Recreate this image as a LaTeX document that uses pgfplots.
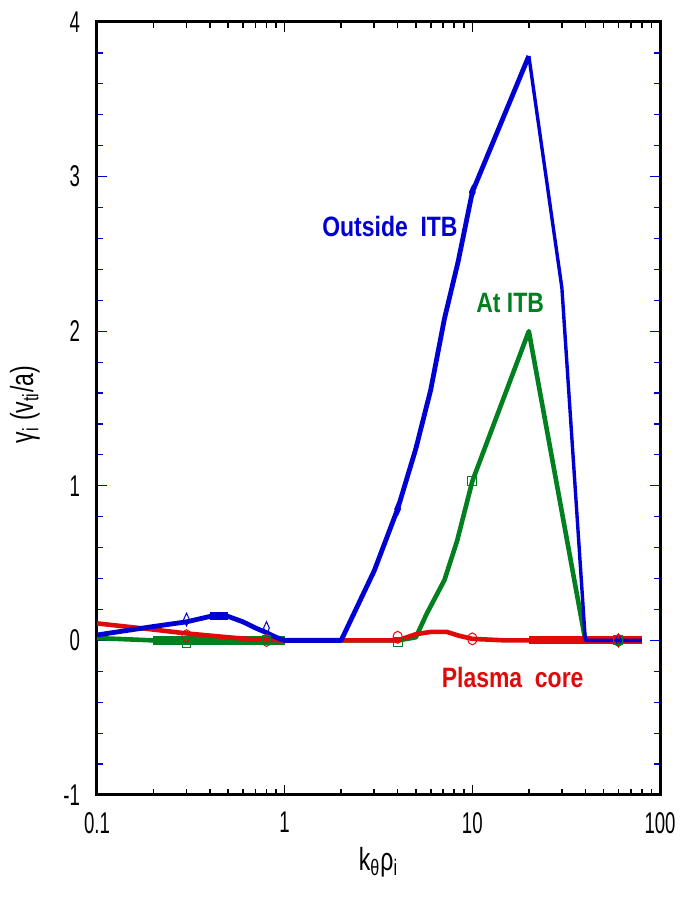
\documentclass[border=0pt]{standalone}
\usepackage{fontspec}
\setmainfont{Liberation Sans}
\newfontfamily\narrowfont{Liberation Sans}[FakeStretch=0.62]
\newfontfamily\labelfont{Liberation Sans}[FakeStretch=0.72]
\newfontfamily\boldnarrow{Liberation Sans Bold}[FakeStretch=0.82]
\usepackage{pgfplots}
\pgfplotsset{compat=1.18}
\definecolor{myblue}{RGB}{0,0,210}
\definecolor{mygreen}{RGB}{0,128,30}
\definecolor{myred}{RGB}{225,10,10}
\begin{document}
\begin{tikzpicture}
\begin{axis}[name=ax, scale only axis, width=281.5pt, height=386.5pt,
  xmode=log, xmin=0.1, xmax=100, ymin=-1, ymax=4,
  xtick={0.1,1,10,100}, xticklabels={0.1,1,10,100},
  ytick={-1,0,1,2,3,4}, yticklabels={-1,0,1,2,3,4},
  minor ytick={-0.8,-0.6,-0.4,-0.2,0.2,0.4,0.6,0.8,1.2,1.4,1.6,1.8,2.2,2.4,2.6,2.8,3.2,3.4,3.6,3.8},
  tick align=inside,
  axis line style={line width=1.5pt},
  major tick length=5pt, minor tick length=3pt,
  x tick style={black, line width=0.8pt},
  y tick style={myblue, line width=0.6pt},
  ticklabel style={font=\narrowfont\fontsize{15}{17}\selectfont, text=black},
  xticklabel style={yshift=-5pt},
  yticklabel style={xshift=-5pt},
  xlabel={k\textsubscript{θ}ρ\textsubscript{i}},
  ylabel={γ\textsubscript{i} (v\textsubscript{ti}/a)},
  label style={font=\labelfont\fontsize{16}{18}\selectfont},
  xlabel style={at={(axis description cs:0.5,-0.087)}, anchor=center},
  ylabel style={at={(axis description cs:-0.128,0.505)}, anchor=center},
  clip=true,
]
% At ITB (green)
\addplot[mygreen, line width=2.3pt, line join=round] coordinates {
 (0.1,0.015) (0.2,0) (1,0) (4,0) (5,0.02) (5.7,0.17) (7.1,0.39) (8.3,0.645) (10,1.03) (20,2.0) (30,0.83) (40,0) (80,0)};
\addplot[mygreen, line width=4.5pt] coordinates {(0.2,0) (1,0)};
% Plasma core (red)
\addplot[myred, line width=2.3pt, line join=round] coordinates {
 (0.1,0.11) (0.2,0.07) (0.3,0.045) (0.5,0.02) (0.7,0.005) (1,0) (4,0) (5,0.04) (6,0.055) (7.3,0.055) (8.5,0.03) (10,0.01) (15,0) (80,0)};
\addplot[myred, line width=4pt] coordinates {(20,0) (80,0)};
% Outside ITB (blue)
\addplot[myblue, line width=2.4pt, line join=round] coordinates {
 (0.1,0.035) (0.2,0.09) (0.3,0.12) (0.4,0.155) (0.5,0.155) (0.6,0.12) (0.7,0.08) (0.8,0.05) (0.9,0.02) (1,0) (2,0) (3,0.45) (4,0.85) (5,1.24) (6,1.62) (7.1,2.08) (8.4,2.45) (10,2.9) (20,3.78)};
\addplot[myblue, line width=1.7pt, line join=round] coordinates {
 (20,3.78) (30,2.28) (40,0) (80,0)};
\addplot[myblue, line width=4pt] coordinates {(0.4,0.155) (0.5,0.155)};
% markers
\addplot[only marks, mark=diamond, mark size=3.2pt, mark options={myblue, xscale=0.6, line width=0.5pt}] coordinates {
 (0.3,0.135) (0.8,0.08) (4,0.85) (10,2.9) (60,0)};
\addplot[only marks, mark=o, mark size=3pt, mark options={myred, xscale=0.75, line width=0.5pt}] coordinates {
 (0.3,0.03) (0.8,0) (4,0.02) (10,0.01) (60,0)};
\addplot[only marks, mark=square, mark size=2.2pt, mark options={mygreen, line width=0.5pt}] coordinates {
 (0.3,-0.015) (0.8,0) (4,-0.01) (10,1.03) (60,0)};
% labels
\node[font=\boldnarrow\fontsize{14}{16}\selectfont, text=myblue] at (axis cs:3.64,2.68) {Outside\ \ ITB};
\node[font=\boldnarrow\fontsize{14}{16}\selectfont, text=mygreen] at (axis cs:15.9,2.18) {At ITB};
\node[font=\boldnarrow\fontsize{14}{16}\selectfont, text=myred] at (axis cs:16.4,-0.24) {Plasma\ \ core};
\end{axis}
\pgfresetboundingbox
\path ([shift={(-48.5pt,-51pt)}]ax.south west) rectangle ([shift={(12pt,11pt)}]ax.north east);
\end{tikzpicture}
\end{document}
